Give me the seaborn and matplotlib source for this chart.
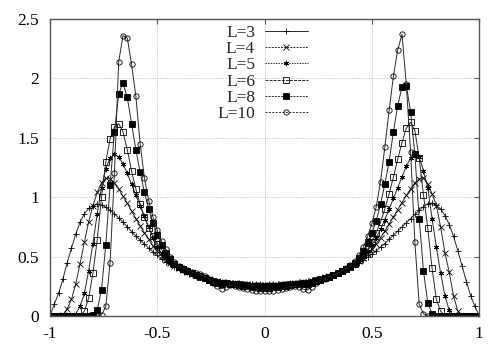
import numpy as np
import matplotlib
matplotlib.use("Agg")
import matplotlib.pyplot as plt
from matplotlib.lines import Line2D
import seaborn as sns

# x grid of the histogram bins (-1 .. 1, step 0.02)
x_vals = np.round(np.linspace(-1, 1, 101), 2)

L3 = [0.0, 0.10, 0.19, 0.31, 0.45, 0.57, 0.69, 0.79, 0.86, 0.905,
      0.93, 0.94, 0.935, 0.915, 0.89, 0.86, 0.825, 0.79, 0.75, 0.71,
      0.675, 0.64, 0.605, 0.57, 0.54, 0.51, 0.48, 0.455, 0.435, 0.415,
      0.40, 0.385, 0.37, 0.355, 0.34, 0.33, 0.32, 0.31, 0.30, 0.295,
      0.29, 0.285, 0.28, 0.277, 0.274, 0.272, 0.27, 0.268, 0.267, 0.266, 0.265,
      0.266, 0.267, 0.268, 0.27, 0.272, 0.275, 0.278, 0.282, 0.287, 0.293,
      0.30, 0.307, 0.315, 0.325, 0.335, 0.347, 0.36, 0.375, 0.39, 0.41,
      0.43, 0.45, 0.47, 0.495, 0.52, 0.55, 0.58, 0.61, 0.645, 0.68,
      0.715, 0.75, 0.785, 0.82, 0.855, 0.89, 0.92, 0.945, 0.95, 0.935,
      0.90, 0.845, 0.77, 0.67, 0.55, 0.42, 0.29, 0.17, 0.08, 0.0]

L4 = [0.0, 0.0, 0.0, 0.01, 0.06, 0.14, 0.27, 0.44, 0.62, 0.79,
      0.93, 1.04, 1.12, 1.16, 1.155, 1.12, 1.07, 1.01, 0.95, 0.885,
      0.82, 0.76, 0.70, 0.645, 0.59, 0.545, 0.505, 0.47, 0.445, 0.42,
      0.405, 0.39, 0.372, 0.357, 0.342, 0.33, 0.318, 0.308, 0.298, 0.292,
      0.286, 0.281, 0.277, 0.274, 0.271, 0.269, 0.267, 0.265, 0.264, 0.263, 0.262,
      0.263, 0.264, 0.265, 0.267, 0.269, 0.272, 0.275, 0.279, 0.284, 0.29,
      0.297, 0.305, 0.314, 0.324, 0.335, 0.347, 0.36, 0.376, 0.392, 0.412,
      0.435, 0.46, 0.49, 0.525, 0.565, 0.61, 0.66, 0.715, 0.775, 0.835,
      0.895, 0.955, 1.015, 1.07, 1.12, 1.155, 1.165, 1.11, 1.03, 0.93,
      0.75, 0.53, 0.37, 0.17, 0.04, 0.0, 0.0, 0.0, 0.0, 0.0]

L5 = [0.0, 0.0, 0.0, 0.0, 0.0, 0.0, 0.02, 0.08, 0.19, 0.38,
      0.61, 0.86, 1.08, 1.24, 1.33, 1.36, 1.34, 1.28, 1.20, 1.11,
      1.02, 0.93, 0.84, 0.75, 0.66, 0.58, 0.53, 0.49, 0.455, 0.43,
      0.41, 0.39, 0.373, 0.358, 0.343, 0.33, 0.318, 0.306, 0.296, 0.289,
      0.283, 0.279, 0.275, 0.272, 0.269, 0.266, 0.264, 0.262, 0.26, 0.259, 0.258,
      0.259, 0.26, 0.262, 0.264, 0.266, 0.269, 0.272, 0.276, 0.281, 0.287,
      0.295, 0.304, 0.313, 0.323, 0.334, 0.347, 0.361, 0.377, 0.394, 0.414,
      0.44, 0.47, 0.505, 0.55, 0.60, 0.66, 0.73, 0.81, 0.90, 0.99,
      1.08, 1.17, 1.26, 1.33, 1.37, 1.34, 1.22, 1.08, 0.82, 0.58,
      0.36, 0.17, 0.05, 0.0, 0.0, 0.0, 0.0, 0.0, 0.0, 0.0]

L6 = [0.0, 0.0, 0.0, 0.0, 0.0, 0.0, 0.0, 0.0, 0.04, 0.15,
      0.36, 0.64, 1.00, 1.30, 1.49, 1.59, 1.62, 1.55, 1.40, 1.22,
      1.07, 0.94, 0.83, 0.74, 0.67, 0.61, 0.56, 0.51, 0.47, 0.435,
      0.41, 0.392, 0.375, 0.36, 0.345, 0.332, 0.318, 0.305, 0.293, 0.284,
      0.278, 0.276, 0.273, 0.27, 0.266, 0.262, 0.258, 0.255, 0.253, 0.252, 0.251,
      0.252, 0.253, 0.255, 0.258, 0.262, 0.266, 0.27, 0.273, 0.275, 0.278,
      0.288, 0.30, 0.31, 0.32, 0.332, 0.346, 0.361, 0.378, 0.396, 0.416,
      0.44, 0.47, 0.51, 0.56, 0.625, 0.70, 0.79, 0.90, 1.03, 1.17,
      1.32, 1.46, 1.58, 1.63, 1.56, 1.33, 1.02, 0.74, 0.40, 0.14,
      0.04, 0.0, 0.0, 0.0, 0.0, 0.0, 0.0, 0.0, 0.0, 0.0]

L8 = [0.0, 0.0, 0.0, 0.0, 0.0, 0.0, 0.0, 0.0, 0.0, 0.0,
      0.01, 0.05, 0.22, 0.60, 1.10, 1.55, 1.87, 1.96, 1.84, 1.62,
      1.40, 1.21, 1.04, 0.90, 0.78, 0.68, 0.60, 0.53, 0.48, 0.44,
      0.415, 0.395, 0.377, 0.362, 0.348, 0.335, 0.32, 0.305, 0.29, 0.276,
      0.27, 0.274, 0.272, 0.268, 0.262, 0.255, 0.249, 0.244, 0.24, 0.238, 0.237,
      0.238, 0.24, 0.244, 0.249, 0.255, 0.262, 0.268, 0.27, 0.267, 0.268,
      0.28, 0.295, 0.307, 0.319, 0.331, 0.345, 0.361, 0.379, 0.398, 0.42,
      0.45, 0.49, 0.55, 0.62, 0.70, 0.80, 0.94, 1.11, 1.30, 1.55,
      1.77, 1.93, 1.94, 1.72, 1.36, 0.82, 0.38, 0.11, 0.02, 0.0,
      0.0, 0.0, 0.0, 0.0, 0.0, 0.0, 0.0, 0.0, 0.0, 0.0]

L10 = [0.0, 0.0, 0.0, 0.0, 0.0, 0.0, 0.0, 0.0, 0.0, 0.0,
       0.0, 0.0, 0.01, 0.08, 0.45, 1.20, 2.14, 2.36, 2.34, 2.12,
       1.85, 1.45, 1.16, 0.97, 0.83, 0.72, 0.63, 0.56, 0.50, 0.455,
       0.42, 0.40, 0.383, 0.37, 0.36, 0.35, 0.335, 0.31, 0.28, 0.25,
       0.23, 0.245, 0.258, 0.255, 0.245, 0.235, 0.226, 0.218, 0.213, 0.21, 0.209,
       0.21, 0.213, 0.218, 0.226, 0.235, 0.245, 0.25, 0.245, 0.225, 0.22,
       0.245, 0.28, 0.30, 0.315, 0.33, 0.345, 0.362, 0.38, 0.40, 0.425,
       0.46, 0.51, 0.58, 0.67, 0.78, 0.92, 1.13, 1.42, 1.73, 2.02,
       2.24, 2.37, 1.95, 1.38, 0.62, 0.10, 0.02, 0.0, 0.0, 0.0,
       0.0, 0.0, 0.0, 0.0, 0.0, 0.0, 0.0, 0.0, 0.0, 0.0]

labels = ["L=3", "L=4", "L=5", "L=6", "L=8", "L=10"]
series = [L3, L4, L5, L6, L8, L10]

x_ticks = [-1, -0.5, 0, 0.5, 1]
x_ticklabels = ["-1", "-0.5", "0", "0.5", "1"]
y_ticks = [0, 0.5, 1, 1.5, 2, 2.5]
y_ticklabels = ["0", "0.5", "1", "1.5", "2", "2.5"]

# marker, face color, legend line style
styles = [
    ("+", "black", "-"),
    ("x", "black", (0, (2, 1.2))),
    ((6, 2, 0), "black", (0, (1.5, 1.2))),
    ("s", "none", (0, (3, 1.2))),
    ("s", "black", (0, (2, 1.2))),
    ("o", "none", (0, (2, 1.5))),
]

sns.set_style("white")
plt.rcParams["font.family"] = ["Liberation Serif", "DejaVu Serif"]

fig = plt.figure(figsize=(4.98, 3.49), dpi=100)
ax = fig.add_axes([0.1004, 0.0946, 0.862, 0.851])

line_col = "#2a2a2a"
handles = []
for lab, ys, (mk, fc, ls) in zip(labels, series, styles):
    sns.lineplot(x=x_vals, y=ys, ax=ax, sort=False, errorbar=None,
                 color=line_col, linewidth=0.7, marker=mk, markersize=3.8,
                 mfc=fc, mec="black", mew=0.6)
    handles.append(Line2D([], [], color=line_col, linewidth=0.7, linestyle=ls,
                          marker=mk, markersize=3.8, mfc=fc, mec="black", mew=0.6))

ax.set_xlim(-1, 1)
ax.set_ylim(0, 2.5)
ax.set_xticks(x_ticks)
ax.set_xticklabels(x_ticklabels)
ax.set_yticks(y_ticks)
ax.set_yticklabels(y_ticklabels)
ax.set_xlabel("")
ax.set_ylabel("")

ax.grid(True, color="#bdbdbd", linestyle=(0, (1, 1.5)), linewidth=0.7)
ax.set_axisbelow(True)
for sp in ax.spines.values():
    sp.set_color("#555555")
    sp.set_linewidth(1.0)
    sp.set_visible(True)

ax.tick_params(axis="both", direction="in", top=True, right=True,
               length=3.6, width=0.8, color="#555555", labelsize=12.5,
               labelcolor="black")
ax.tick_params(axis="y", pad=8)
ax.tick_params(axis="x", pad=7)

ax.legend(handles=handles, labels=labels, markerfirst=False, frameon=False,
          loc="upper right", bbox_to_anchor=(308 / 498, 1 - 25 / 349),
          bbox_transform=fig.transFigure, borderpad=0, borderaxespad=0,
          fontsize=12.5, handlelength=2.5, handletextpad=0.55,
          labelspacing=0.0)

fig.savefig("out.png", dpi=100)
